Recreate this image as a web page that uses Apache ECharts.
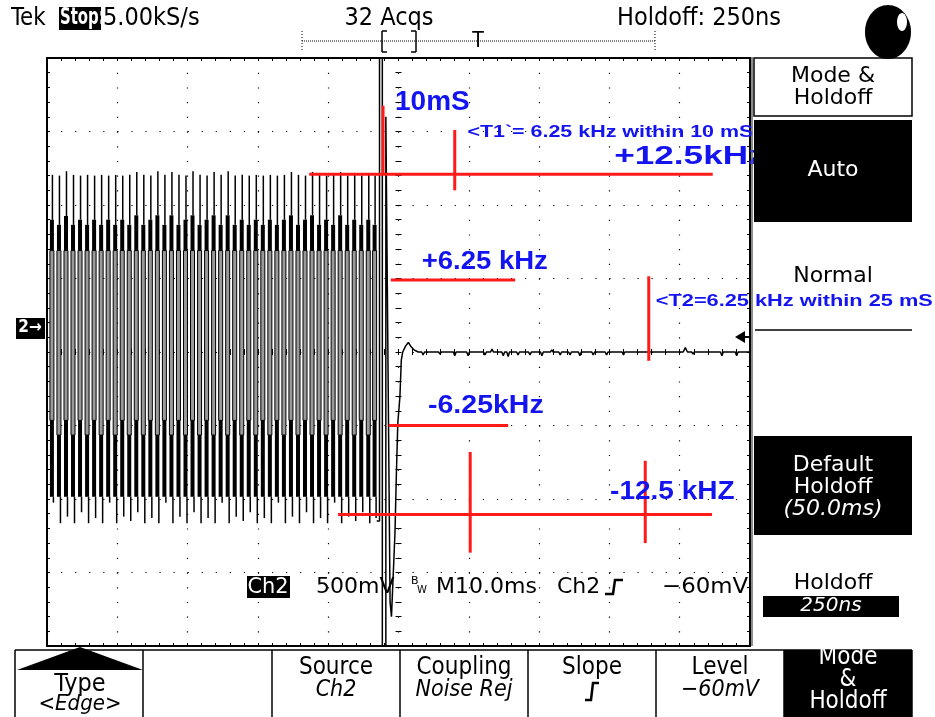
<!DOCTYPE html>
<html>
<head>
<meta charset="utf-8">
<script src="https://cdn.jsdelivr.net/npm/echarts@6/dist/echarts.min.js"></script>
<style>
  html, body { margin: 0; padding: 0; background: #fff; }
  #chart { width: 935px; height: 717px; }
</style>
</head>
<body>
<div id="chart"></div>
<script>
// ====================数据（读自截图）====================
// 时间轴: ms (10 ms/div, 10 div)，纵轴: div (500 mV/div, ±4 div)
var pulseTimes = [0.7, 1.7, 2.7, 3.7, 4.7, 5.7, 6.7, 7.7, 8.7, 9.7, 10.7, 11.7, 12.7, 13.7, 14.7, 15.7,
    16.7, 17.7, 18.7, 19.7, 20.7, 21.7, 22.7, 23.7, 24.7, 25.7, 26.7, 27.7, 28.7, 29.7, 30.7, 31.7,
    32.7, 33.7, 34.7, 35.7, 36.7, 37.7, 38.7, 39.7, 40.7, 41.7, 42.7, 43.7, 44.7, 45.7, 46.6];
var pulseTops = [2.41, 2.40, 2.46, 2.41, 2.40, 2.41, 2.40, 2.41, 2.40, 2.41, 2.40, 2.41, 2.45, 2.41, 2.40, 2.46,
    2.41, 2.45, 2.41, 2.40, 2.46, 2.41, 2.40, 2.45, 2.41, 2.46, 2.40, 2.41, 2.40, 2.41, 2.40, 2.41,
    2.40, 2.41, 2.45, 2.41, 2.40, 2.45, 2.41, 2.40, 2.41, 2.45, 2.40, 2.41, 2.40, 2.41, 2.40];
var pulseUpperBand = [1.80, 1.73, 1.85, 1.73, 1.80, 1.73, 1.80, 1.73, 1.80, 1.73, 1.80, 1.73, 1.86, 1.73, 1.80, 1.86,
    1.73, 1.86, 1.73, 1.80, 1.86, 1.73, 1.80, 1.86, 1.73, 1.86, 1.73, 1.80, 1.73, 1.80, 1.73, 1.80,
    1.73, 1.80, 1.86, 1.73, 1.80, 1.86, 1.73, 1.80, 1.73, 1.86, 1.73, 1.80, 1.73, 1.80, 1.73];
var pulseLowerBand = [-0.93, -1.13, -0.93, -1.13, -0.93, -1.13, -0.93, -1.13, -0.93, -1.13, -0.93, -1.13, -0.93, -1.13, -0.93, -1.13,
    -0.93, -1.13, -0.93, -1.13, -0.93, -1.13, -0.93, -1.13, -0.93, -1.13, -0.93, -1.13, -0.93, -1.13, -0.93, -1.13,
    -0.93, -1.13, -0.93, -1.13, -0.93, -1.13, -0.93, -1.13, -0.93, -1.13, -0.93, -1.13, -0.93, -1.13, -0.93];
var pulseBottoms = [-2.05, -2.33, -2.24, -2.33, -2.18, -2.33, -2.26, -2.33, -2.05, -2.33, -2.24, -2.30, -2.18, -2.33, -2.26, -2.33,
    -2.05, -2.33, -2.24, -2.33, -2.18, -2.33, -2.26, -2.33, -2.05, -2.33, -2.24, -2.30, -2.18, -2.33, -2.26, -2.33,
    -2.05, -2.33, -2.24, -2.33, -2.18, -2.33, -2.26, -2.33, -2.05, -2.33, -2.24, -2.30, -2.18, -2.33, -2.26];
var upperBandFloor = 1.38;   // 上方粗段下沿
var lowerBandFloor = -1.97;  // 下方粗段下沿

// 触发后的尖峰 + 回到零线的迹线（零线上的小毛刺逐点读出）
var tailTimes = [46.9, 47.3, 47.3, 47.7, 47.7, 48.2, 48.2, 48.8, 49.0, 49.5, 49.7, 49.9, 50.2, 50.4, 50.6,
    51.0, 51.4, 51.8, 52.2, 52.8,
    53.3, 53.5, 53.7, 55.7, 55.9, 56.1, 57.8, 58.0, 58.2, 59.7, 59.9, 60.1, 62.1, 62.3, 62.5,
    63.1, 63.3, 63.5, 64.7, 64.9, 65.1, 65.4, 65.6, 65.8, 66.8, 67.0, 67.2, 68.5, 68.7, 68.9,
    70.2, 70.4, 70.6, 71.6, 71.8, 72.0, 72.8, 73.0, 73.2, 74.2, 74.4, 74.6, 75.6, 75.8, 76.0,
    77.5, 77.7, 77.9, 79.4, 79.6, 79.8, 81.8, 82.0, 82.2, 90.5, 90.8, 91.1, 91.7, 91.9, 92.1,
    95.8, 96.0, 96.2, 97.9, 98.1, 98.3, 100];
var tailValues = [-2.3, -2.3, 4.0, 4.0, -4.0, -4.0, 3.2, -3.4, -3.6, -2.46, -1.65, -0.97, -0.61, -0.11, 0.0,
    0.08, 0.13, 0.07, 0.03, 0.0,
    0.0, -0.04, 0.0, 0.0, -0.03, 0.0, 0.0, -0.05, 0.0, 0.0, -0.05, 0.0, 0.0, -0.04, 0.0,
    0.0, 0.04, 0.0, 0.0, -0.05, 0.0, 0.0, -0.06, 0.0, 0.0, -0.04, 0.0, 0.0, -0.04, 0.0,
    0.0, -0.05, 0.0, 0.0, 0.03, 0.0, 0.0, -0.04, 0.0, 0.0, -0.04, 0.0, 0.0, -0.05, 0.0,
    0.0, -0.04, 0.0, 0.0, -0.04, 0.0, 0.0, -0.04, 0.0, 0.0, 0.06, 0.0, 0.0, -0.03, 0.0,
    0.0, -0.05, 0.0, 0.0, -0.05, 0.0, 0.0];

// 红色标注线段 [t1, v1, t2, v2]
var redSegments = [
    [37.3, 2.42, 94.7, 2.42],
    [47.8, 3.35, 47.8, 2.42],
    [58.0, 3.02, 58.0, 2.20],
    [48.9, 0.98, 66.6, 0.98],
    [85.6, 1.03, 85.6, -0.12],
    [48.6, -1.00, 65.6, -1.00],
    [41.4, -2.21, 94.6, -2.21],
    [60.2, -1.36, 60.2, -2.73],
    [85.1, -1.48, 85.1, -2.60]
];

// 蓝色标注文字 [文字, t, v]
var blueNotes = [
    ['10mS', 49.5, 3.40],
    ['<T1`= 6.25 kHz within 10 mS', 59.8, 2.98],
    ['+12.5kHz', 80.7, 2.65],
    ['+6.25 kHz', 53.3, 1.22],
    ['<T2=6.25 kHz within 25 mS', 86.6, 0.68],
    ['-6.25kHz', 54.2, -0.73],
    ['-12.5 kHZ', 80.1, -1.90]
];
// 标注样式 [字号, 横向拉伸]
var noteStyles = [[28, 1.0], [16, 1.34], [26, 1.35], [25, 1.1], [16, 1.36], [25, 1.14], [25, 1.12]];

var pulseData = pulseTimes.map(function (t, i) {
    return [t, pulseTops[i], pulseUpperBand[i], pulseLowerBand[i], pulseBottoms[i]];
});
var tailData = tailTimes.map(function (t, i) {
    return [t, tailValues[i]];
});

// ====================界面文字/框====================
var UI_FONT = '"DejaVu Sans Condensed", "DejaVu Sans", sans-serif';
var UI_FONT2 = '"DejaVu Sans", sans-serif';

function txt(x, y, s, size, opt) {
    opt = opt || {};
    return {
        type: 'text', x: x, y: y, z: opt.z || 100,
        scaleX: opt.sx || 1, originX: 0, originY: 0,
        style: {
            text: s,
            font: (opt.italic ? 'italic ' : '') + (opt.bold ? 'bold ' : '') + size + 'px ' + (opt.family || UI_FONT),
            fill: opt.color || '#000',
            align: opt.align || 'left', textAlign: opt.align || 'left',
            verticalAlign: 'middle', textVerticalAlign: 'middle'
        }
    };
}
function box(x, y, w, h, fill, stroke, z) {
    return {
        type: 'rect', z: z || 90,
        shape: { x: x, y: y, width: w, height: h },
        style: { fill: fill || 'none', stroke: stroke || null, lineWidth: 1.5 }
    };
}
function seg(x1, y1, x2, y2, w, dash, color) {
    return {
        type: 'line', z: 95,
        shape: { x1: x1, y1: y1, x2: x2, y2: y2 },
        style: { stroke: color || '#000', lineWidth: w || 1, lineDash: dash || null }
    };
}

var ui = [
    // 顶部状态栏
    txt(11, 18, 'Tek', 25, { sx: 0.95 }),
    box(59, 7, 42, 23, '#000'),
    txt(60, 18, 'Stop:', 23, { color: '#fff', bold: true, sx: 0.72 }),
    txt(103, 18, '5.00kS/s', 25),
    txt(389, 18, '32 Acqs', 25, { align: 'center' }),
    txt(617, 18, 'Holdoff: 250ns', 25),
    { type: 'ellipse', z: 100, shape: { cx: 888, cy: 32, rx: 23, ry: 27 }, style: { fill: '#000' } },
    { type: 'ellipse', z: 101, shape: { cx: 902, cy: 22, rx: 5, ry: 9 }, style: { fill: '#fff' } },
    // 记录长度条
    seg(302, 41, 655, 41, 1, [1, 1]),
    seg(302, 31, 302, 51, 1, [1, 2]),
    seg(655, 31, 655, 51, 1, [1, 2]),
    seg(382, 31, 382, 52, 1.5), seg(382, 31, 387, 31, 1.5), seg(382, 52, 387, 52, 1.5),
    seg(416, 31, 416, 52, 1.5), seg(411, 31, 416, 31, 1.5), seg(411, 52, 416, 52, 1.5),
    txt(478, 42, 'T', 21, { align: 'center' }),
    // 通道标记 2→ 与触发电平箭头
    box(16, 318, 29, 21, '#000'),
    txt(30, 328, '2\u2192', 17, { color: '#fff', align: 'center', bold: true }),
    { type: 'polygon', z: 100, shape: { points: [[735, 337], [745, 331], [745, 343]] }, style: { fill: '#000' } },
    seg(745, 337, 750, 337, 2),
    // 屏幕下方读数
    box(247, 576, 43, 22, '#000'),
    txt(268, 587, 'Ch2', 22, { color: '#fff', align: 'center', family: UI_FONT2, sx: 0.95 }),
    txt(316, 587, '500mV', 22, { family: UI_FONT2 }),
    txt(411, 581, 'B', 11, { family: UI_FONT2 }),
    txt(417, 590, 'W', 10, { family: UI_FONT2 }),
    txt(436, 587, 'M10.0ms', 22, { family: UI_FONT2 }),
    txt(557, 587, 'Ch2', 22, { family: UI_FONT2 }),
    { type: 'polyline', z: 100, shape: { points: [[605, 594], [613, 594], [615, 580], [623, 580]] }, style: { stroke: '#000', lineWidth: 2.5, fill: null } },
    txt(662, 587, '\u221260mV', 22, { family: UI_FONT2, sx: 1.04 }),
    // 右侧菜单
    seg(752, 57, 752, 646, 1.5, null, '#666'),
    box(754, 58, 158, 58, '#fff', '#000'),
    txt(833, 76, 'Mode &', 22, { align: 'center', family: UI_FONT2 }),
    txt(833, 98, 'Holdoff', 22, { align: 'center', family: UI_FONT2 }),
    box(754, 120, 158, 102, '#000'),
    txt(833, 170, 'Auto', 22, { align: 'center', color: '#fff', family: UI_FONT2 }),
    txt(833, 276, 'Normal', 22, { align: 'center', family: UI_FONT2 }),
    seg(755, 330, 912, 330, 1.5),
    box(754, 436, 158, 99, '#000'),
    txt(833, 465, 'Default', 22, { align: 'center', color: '#fff', family: UI_FONT2 }),
    txt(833, 487, 'Holdoff', 22, { align: 'center', color: '#fff', family: UI_FONT2 }),
    txt(833, 509, '(50.0ms)', 22, { align: 'center', color: '#fff', family: UI_FONT2, italic: true }),
    txt(833, 583, 'Holdoff', 22, { align: 'center', family: UI_FONT2 }),
    box(763, 596, 136, 21, '#000'),
    txt(831, 606, '250ns', 20, { align: 'center', color: '#fff', family: UI_FONT2, italic: true }),
    // 底部菜单
    seg(15, 650, 912, 650, 1.5),
    { type: 'polygon', z: 100, shape: { points: [[80, 647], [17, 670], [143, 670]] }, style: { fill: '#000' } },
    txt(80, 684, 'Type', 25, { align: 'center' }),
    txt(80, 704, '<Edge>', 22, { align: 'center', italic: true }),
    txt(336, 668, 'Source', 24, { align: 'center' }),
    txt(336, 690, 'Ch2', 23, { align: 'center', italic: true }),
    txt(464, 668, 'Coupling', 24, { align: 'center' }),
    txt(464, 690, 'Noise Rej', 23, { align: 'center', italic: true }),
    txt(592, 668, 'Slope', 24, { align: 'center' }),
    { type: 'polyline', z: 100, shape: { points: [[585, 700], [591, 700], [593, 683], [599, 683]] }, style: { stroke: '#000', lineWidth: 2.5, fill: null } },
    txt(720, 668, 'Level', 24, { align: 'center' }),
    txt(720, 690, '\u221260mV', 23, { align: 'center', italic: true }),
    box(784, 650, 128, 67, '#000'),
    txt(848, 658, 'Mode', 24, { align: 'center', color: '#fff' }),
    txt(848, 680, '&', 24, { align: 'center', color: '#fff' }),
    txt(848, 702, 'Holdoff', 24, { align: 'center', color: '#fff' })
];
[15, 143, 272, 400, 528, 656, 784, 912].forEach(function (x) {
    ui.push(seg(x, 650, x, 717, 1.5));
});

// ====================echart====================
var myChart = echarts.init(document.getElementById('chart'), null, { renderer: 'canvas' });

function xAx(pos, offset, inside, showLine, split) {
    return {
        type: 'value', min: 0, max: 100, interval: 10, position: pos, offset: offset,
        axisLine: { show: showLine, onZero: false, lineStyle: { color: '#000', width: 2 } },
        axisTick: { show: true, inside: inside, length: 3, lineStyle: { color: '#000', width: 1 } },
        minorTick: { show: true, splitNumber: 5, length: 3, lineStyle: { color: '#000', width: 1 } },
        axisLabel: { show: false },
        splitLine: { show: split, lineStyle: { color: '#000', width: 1.2, type: [1.2, 13.5] } }
    };
}
function yAx(pos, offset, inside, showLine, split) {
    return {
        type: 'value', min: -4, max: 4, interval: 1, position: pos, offset: offset,
        axisLine: { show: showLine, onZero: false, lineStyle: { color: '#000', width: 2 } },
        axisTick: { show: true, inside: inside, length: 3, lineStyle: { color: '#000', width: 1 } },
        minorTick: { show: true, splitNumber: 5, length: 3, lineStyle: { color: '#000', width: 1 } },
        axisLabel: { show: false },
        splitLine: { show: split, lineStyle: { color: '#000', width: 1.2, type: [1.2, 12.86] } }
    };
}

var option = {
    animation: false,
    backgroundColor: '#fff',
    grid: { left: 47, top: 58, width: 703, height: 588, show: true, borderColor: '#000', borderWidth: 2, backgroundColor: 'transparent' },
    xAxis: [
        xAx('bottom', 0, true, true, true),
        xAx('top', 0, true, true, false),
        xAx('bottom', -294, true, false, false),
        xAx('bottom', -294, false, false, false)
    ],
    yAxis: [
        yAx('left', 0, true, true, true),
        yAx('right', 0, true, true, false),
        yAx('left', -351.5, true, false, false),
        yAx('left', -351.5, false, false, false)
    ],
    graphic: { elements: ui },
    series: [{
        name: 'pulses',
        type: 'custom',
        z: 5,
        clip: true,
        data: pulseData,
        renderItem: function (params, api) {
            var t = api.value(0);
            var pTop = api.coord([t, api.value(1)]);
            var pHi = api.coord([t, api.value(2)]);
            var pHiFloor = api.coord([t, upperBandFloor]);
            var pLo = api.coord([t, api.value(3)]);
            var pLoFloor = api.coord([t, lowerBandFloor]);
            var pBot = api.coord([t, api.value(4)]);
            var cx = pTop[0];
            return {
                type: 'group',
                children: [
                    { type: 'line', shape: { x1: cx + 0.5, y1: pTop[1], x2: cx + 0.5, y2: pHi[1] }, style: { stroke: '#000', lineWidth: 1.5 } },
                    { type: 'rect', shape: { x: cx - 2, y: pHi[1], width: 4, height: pHiFloor[1] - pHi[1] }, style: { fill: '#000' } },
                    { type: 'rect', shape: { x: cx - 2, y: pHiFloor[1], width: 4, height: pLo[1] - pHiFloor[1] }, style: { fill: '#9a9a9a', stroke: '#000', lineWidth: 1 } },
                    { type: 'rect', shape: { x: cx - 2, y: pLo[1], width: 4, height: pLoFloor[1] - pLo[1] }, style: { fill: '#000' } },
                    { type: 'line', shape: { x1: cx + 1.5, y1: pLoFloor[1], x2: cx + 1.5, y2: pBot[1] }, style: { stroke: '#000', lineWidth: 1.5 } }
                ]
            };
        }
    }, {
        name: 'Ch2',
        type: 'line',
        z: 6,
        data: tailData,
        showSymbol: false,
        lineStyle: { color: '#000', width: 1.5 },
        clip: true
    }, {
        name: 'red',
        type: 'custom',
        z: 8,
        data: redSegments,
        renderItem: function (params, api) {
            var a = api.coord([api.value(0), api.value(1)]);
            var b = api.coord([api.value(2), api.value(3)]);
            return { type: 'line', shape: { x1: a[0], y1: a[1], x2: b[0], y2: b[1] }, style: { stroke: '#ff1a1a', lineWidth: 3 } };
        }
    }, {
        name: 'notes',
        type: 'custom',
        z: 9,
        clip: false,
        data: blueNotes.map(function (n) { return [n[1], n[2]]; }),
        renderItem: function (params, api) {
            var n = blueNotes[params.dataIndex];
            var st = noteStyles[params.dataIndex];
            var p = api.coord([n[1], n[2]]);
            return {
                type: 'text', x: p[0], y: p[1], scaleX: st[1], originX: 0, originY: 0,
                style: { text: n[0], font: 'bold ' + st[0] + 'px "Liberation Sans", Arial, sans-serif', fill: '#1414f0', align: 'left', verticalAlign: 'middle' }
            };
        }
    }]
};

myChart.setOption(option);
</script>
</body>
</html>
